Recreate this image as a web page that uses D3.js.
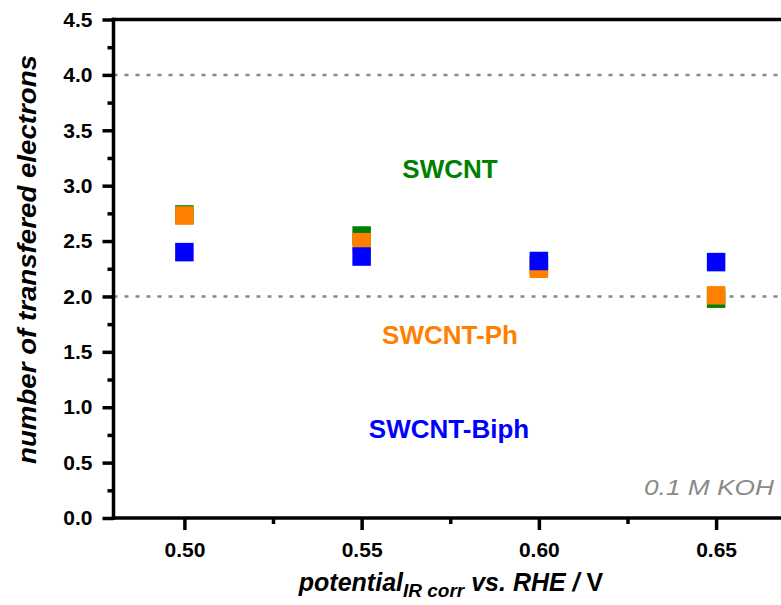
<!DOCTYPE html>
<html>
<head>
<meta charset="utf-8">
<script src="https://cdn.jsdelivr.net/npm/d3@7"></script>
<style>
  html, body { margin: 0; padding: 0; background: #fff; }
  svg { display: block; }
  text { font-family: "Liberation Sans", Arial, Helvetica, sans-serif; }
</style>
</head>
<body>
<div id="chart"></div>
<script>
// ---- data ----
const potentials = [0.50, 0.55, 0.60, 0.65];
const swcnt      = [2.74, 2.55, 2.28, 1.98];
const swcntPh    = [2.73, 2.49, 2.25, 2.01];
const swcntBiph  = [2.40, 2.36, 2.32, 2.31];
const seriesNames = ["SWCNT", "SWCNT-Ph", "SWCNT-Biph"];
const yTickValues = [0, 0.5, 1.0, 1.5, 2.0, 2.5, 3.0, 3.5, 4.0, 4.5];
const xTickValues = [0.50, 0.55, 0.60, 0.65];
const refLines = [2.0, 4.0];
const conditionLabel = "0.1 M KOH";

// ---- layout ----
const W = 781, H = 605;
const colors = ["#008000", "#ff8000", "#0000ff"];
const labelPos = [
  { x: 450, y: 178 },
  { x: 450, y: 344 },
  { x: 449, y: 438 }
];

const svg = d3.select("#chart").append("svg")
  .attr("width", W).attr("height", H);

const x = d3.scaleLinear().domain([0.48, 0.67]).range([113.5, 787]);
const y = d3.scaleLinear().domain([0, 4.5]).range([518, 19.5]);

// reference dotted lines
svg.selectAll("line.ref").data(refLines).enter().append("line")
  .attr("class", "ref")
  .attr("x1", x(0.48)).attr("x2", W)
  .attr("y1", d => y(d)).attr("y2", d => y(d))
  .attr("stroke", "#888").attr("stroke-width", 2.5)
  .attr("stroke-dasharray", "4,7");

// series squares
const series = [swcnt, swcntPh, swcntBiph];
const S = 18.5;
series.forEach((vals, i) => {
  svg.append("g").selectAll("rect").data(vals).enter().append("rect")
    .attr("x", (d, j) => x(potentials[j]) - S / 2)
    .attr("y", d => y(d) - S / 2)
    .attr("width", S).attr("height", S)
    .attr("fill", colors[i]);
});

// series labels
seriesNames.forEach((n, i) => {
  svg.append("text")
    .attr("x", labelPos[i].x).attr("y", labelPos[i].y)
    .attr("text-anchor", "middle")
    .attr("font-size", 26).attr("font-weight", "bold")
    .attr("fill", colors[i])
    .text(n);
});

// axes
const axisColor = "#000";
const yAxis = d3.axisLeft(y).tickValues(yTickValues).tickFormat(d3.format(".1f"))
  .tickSize(11).tickPadding(10);
const yMinor = d3.axisLeft(y).tickValues(d3.range(0.25, 4.5, 0.5)).tickSize(6).tickFormat("");
const xAxis = d3.axisBottom(x).tickValues(xTickValues).tickFormat(d3.format(".2f"))
  .tickSize(12).tickPadding(12);
const xMinor = d3.axisBottom(x).tickValues([0.525, 0.575, 0.625]).tickSize(6).tickFormat("");

function styleAxis(g) {
  g.select(".domain").remove();
  g.selectAll(".tick line").attr("stroke", axisColor).attr("stroke-width", 3.5);
  g.selectAll(".tick text").attr("fill", "#000")
    .attr("font-size", 21).attr("font-weight", "bold")
    .style("font-family", '"Liberation Sans", Arial, sans-serif');
}

svg.append("g").attr("transform", `translate(${x(0.48)},0)`).call(yAxis).call(styleAxis);
svg.append("g").attr("transform", `translate(${x(0.48)},0)`).call(yMinor).call(styleAxis);
svg.append("g").attr("transform", `translate(0,${y(0)})`).call(xAxis).call(styleAxis);
svg.append("g").attr("transform", `translate(0,${y(0)})`).call(xMinor).call(styleAxis);

// spines
svg.append("line").attr("x1", x(0.48)).attr("x2", x(0.48))
  .attr("y1", y(4.5) - 1.75).attr("y2", y(0) + 1.75)
  .attr("stroke", axisColor).attr("stroke-width", 3.5);
svg.append("line").attr("x1", x(0.48) - 1.75).attr("x2", W)
  .attr("y1", y(0)).attr("y2", y(0))
  .attr("stroke", axisColor).attr("stroke-width", 3.5);
svg.append("line").attr("x1", x(0.48) - 1.75).attr("x2", W)
  .attr("y1", y(4.5)).attr("y2", y(4.5))
  .attr("stroke", axisColor).attr("stroke-width", 3.5);

// condition label
svg.append("text")
  .attr("x", 774).attr("y", 495)
  .attr("text-anchor", "end")
  .attr("font-size", 22).attr("font-style", "italic")
  .attr("fill", "#8a8a8a")
  .attr("textLength", 130).attr("lengthAdjust", "spacingAndGlyphs")
  .text(conditionLabel);

// y title
svg.append("text")
  .attr("transform", "translate(36,259.5) rotate(-90)")
  .attr("text-anchor", "middle")
  .attr("font-size", 25).attr("font-weight", "bold").attr("font-style", "italic")
  .attr("textLength", 409).attr("lengthAdjust", "spacingAndGlyphs")
  .text("number of transfered electrons");

// x title
const xt = svg.append("text")
  .attr("x", 451).attr("y", 591)
  .attr("text-anchor", "middle")
  .attr("font-size", 25).attr("font-weight", "bold").attr("font-style", "italic");
xt.append("tspan").text("potential");
xt.append("tspan").attr("font-size", 19).attr("dy", 6).text("IR corr");
xt.append("tspan").attr("dy", -6).text(" vs. RHE / ");
xt.append("tspan").attr("font-style", "normal").text("V");
</script>
</body>
</html>
